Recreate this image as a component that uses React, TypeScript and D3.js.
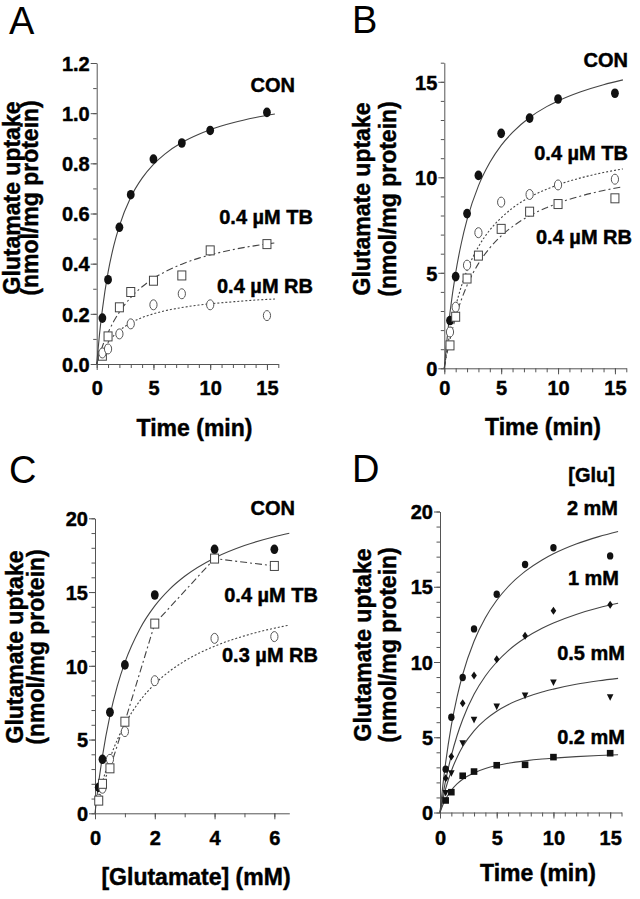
import React, { useEffect, useRef } from 'react';
import * as d3 from 'd3';

const FONT = '"Liberation Sans", Arial, Helvetica, sans-serif';
const AXIS_COLOR = '#555';
const LINE_COLOR = '#444';
const TEXT_STROKE = 0.45;

// sampling times (min) shared by panels A, B, D
const timePoints = [0.5, 1, 2, 3, 5, 7.5, 10, 15];
const fitTimes = [0, 0.25, 0.5, 1, 1.5, 2, 3, 4, 5, 6, 7.5, 9, 10, 12, 14, 15.7];

// Panel A (nmol/mg protein)
const aCon = [0.183, 0.336, 0.545, 0.675, 0.817, 0.881, 0.931, 1.003];
const aTB = [0.033, 0.11, 0.226, 0.287, 0.332, 0.353, 0.453, 0.478];
const aRB = [0.044, 0.06, 0.12, 0.16, 0.236, 0.28, 0.236, 0.193];
const aConFit = [0, 0.12, 0.217, 0.365, 0.471, 0.551, 0.665, 0.741, 0.796, 0.837, 0.883, 0.916, 0.934, 0.962, 0.983, 0.997];
const aTBFit = [0, 0.037, 0.07, 0.125, 0.17, 0.207, 0.265, 0.308, 0.341, 0.367, 0.398, 0.422, 0.435, 0.456, 0.472, 0.483];
const aRBFit = [0, 0.027, 0.05, 0.086, 0.113, 0.133, 0.164, 0.185, 0.2, 0.212, 0.225, 0.235, 0.24, 0.248, 0.255, 0.259];

// Panel B
const bCon = [2.5, 4.8, 8.1, 10.1, 12.3, 13.1, 14.1, 14.4];
const bTB = [1.2, 2.7, 4.7, 5.9, 7.3, 8.2, 8.6, 8.9];
const bRB = [1.9, 3.2, 5.4, 7.1, 8.7, 9.1, 9.6, 9.9];
const bConFit = [0, 1.59, 2.92, 5.0, 6.56, 7.78, 9.55, 10.77, 11.67, 12.35, 13.13, 13.7, 14.0, 14.48, 14.85, 15.1];
const bTBFit = [0, 0.81, 1.51, 2.67, 3.59, 4.34, 5.48, 6.3, 6.93, 7.42, 7.99, 8.41, 8.65, 9.02, 9.31, 9.5];
const bRBFit = [0, 1.01, 1.86, 3.24, 4.29, 5.13, 6.36, 7.24, 7.88, 8.39, 8.96, 9.38, 9.61, 9.97, 10.25, 10.44];

// Panel C ([Glutamate] mM)
const cConc = [0.125, 0.25, 0.5, 1, 2, 4, 6];
const cCon = [1.76, 3.66, 6.85, 10.06, 14.8, 17.9, 17.9];
const cTB = [0.86, 2.0, 3.05, 6.21, 12.86, 17.27, 16.77];
const cRB = [0.95, 1.7, 3.66, 5.54, 8.99, 11.86, 11.98];
const cFitConc = [0, 0.1, 0.25, 0.5, 0.75, 1, 1.5, 2, 2.5, 3, 4, 5, 6, 6.5];
const cConFit = [0, 1.73, 3.88, 6.62, 8.65, 10.23, 12.5, 14.06, 15.2, 16.07, 17.31, 18.15, 18.75, 18.99];
const cRBFit = [0, 0.91, 2.11, 3.72, 5.0, 6.04, 7.62, 8.77, 9.64, 10.32, 11.33, 12.03, 12.55, 12.76];

// Panel D ([Glu] series)
const d2mM = [2.88, 6.33, 8.97, 12.2, 14.5, 16.48, 17.59, 17.05];
const d1mM = [2.28, 3.72, 7.26, 9.1, 10.19, 11.74, 13.4, 13.8];
const d05mM = [1.3, 2.61, 4.6, 6.16, 7.04, 7.77, 8.64, 7.66];
const d02mM = [0.8, 1.35, 2.44, 2.72, 3.14, 3.17, 3.68, 3.94];
const d2mMFit = [0, 1.8, 3.33, 5.79, 7.67, 9.17, 11.38, 12.94, 14.1, 15.0, 16.02, 16.78, 17.19, 17.84, 18.33, 18.67];
const d1mMFit = [0, 1.13, 2.13, 3.78, 5.1, 6.18, 7.85, 9.07, 10.0, 10.74, 11.59, 12.24, 12.59, 13.16, 13.6, 13.9];
const d05mMFit = [0, 0.86, 1.59, 2.76, 3.66, 4.38, 5.43, 6.17, 6.73, 7.16, 7.64, 8.01, 8.2, 8.52, 8.75, 8.91];
const d02mMFit = [0, 0.5, 0.9, 1.48, 1.9, 2.21, 2.63, 2.92, 3.12, 3.27, 3.43, 3.55, 3.61, 3.71, 3.79, 3.84];

// ticks
const timeTicks = [0, 5, 10, 15];
const timeMinor = d3.range(0, 17, 1);
const concTicks = [0, 2, 4, 6];
const concMinor = [0, 1, 2, 3, 4, 5, 6];
const aYTicks = [0, 0.2, 0.4, 0.6, 0.8, 1.0, 1.2];
const aYMinor = d3.range(0, 13).map(i => i / 10);
const bYTicks = [0, 5, 10, 15];
const bYMinor = d3.range(0, 17, 1);
const cdYTicks = [0, 5, 10, 15, 20];
const cdYMinor = d3.range(0, 21, 1);

// texts
const panelLetters = ['A', 'B', 'C', 'D'];
const yTitle = ['Glutamate uptake', '(nmol/mg protein)'];
const xTitles = ['Time (min)', 'Time (min)', '[Glutamate] (mM)', 'Time (min)'];
const aLabels = ['CON', '0.4 µM TB', '0.4 µM RB'];
const bLabels = ['CON', '0.4 µM TB', '0.4 µM RB'];
const cLabels = ['CON', '0.4 µM TB', '0.3 µM RB'];
const dLabels = ['[Glu]', '2 mM', '1 mM', '0.5 mM', '0.2 mM'];

const drawMarker = (g, shape, cx, cy) => {
  if (shape === 'dot') {
    g.append('ellipse').attr('cx', cx).attr('cy', cy).attr('rx', 3.9).attr('ry', 4.8).attr('fill', '#111');
  } else if (shape === 'circle') {
    g.append('ellipse').attr('cx', cx).attr('cy', cy).attr('rx', 3.6).attr('ry', 5)
      .attr('fill', '#fff').attr('stroke', '#555').attr('stroke-width', 1);
  } else if (shape === 'square') {
    g.append('rect').attr('x', cx - 4).attr('y', cy - 4.5).attr('width', 8).attr('height', 9)
      .attr('fill', '#fff').attr('stroke', '#444').attr('stroke-width', 1);
  } else if (shape === 'dotSmall') {
    g.append('ellipse').attr('cx', cx).attr('cy', cy).attr('rx', 3.2).attr('ry', 3.7).attr('fill', '#111');
  } else if (shape === 'diamond') {
    g.append('path').attr('d', `M${cx},${cy - 4}L${cx + 2.8},${cy}L${cx},${cy + 4}L${cx - 2.8},${cy}Z`).attr('fill', '#111');
  } else if (shape === 'triDown') {
    g.append('path').attr('d', `M${cx - 3.3},${cy - 3}L${cx + 3.3},${cy - 3}L${cx},${cy + 3.6}Z`).attr('fill', '#111');
  } else if (shape === 'squareSmall') {
    g.append('rect').attr('x', cx - 3.3).attr('y', cy - 3.3).attr('width', 6.6).attr('height', 6.6).attr('fill', '#111');
  }
};

const boldText = (sel, size) =>
  sel.attr('font-family', FONT).attr('font-size', size).attr('font-weight', 'bold')
    .attr('fill', '#000').attr('stroke', '#000').attr('stroke-width', TEXT_STROKE);

const drawPanel = (svg, p) => {
  const x = d3.scaleLinear().domain(p.xDomain).range(p.xRange);
  const y = d3.scaleLinear().domain(p.yDomain).range(p.yRange);
  const x0 = p.xRange[0];
  const y0 = p.yRange[0];

  // axes: minor ticks with the axis line, then labelled major ticks
  const styleAxis = (g) => {
    g.attr('font-family', FONT).attr('font-size', 20).attr('font-weight', 'bold');
    g.selectAll('path, line').attr('stroke', AXIS_COLOR).attr('stroke-width', 1);
    g.selectAll('text').attr('fill', '#000').attr('stroke', '#000').attr('stroke-width', TEXT_STROKE);
  };

  const yMinorG = svg.append('g').attr('transform', `translate(${x0},0)`)
    .call(d3.axisLeft(y).tickValues(p.yMinor).tickSize(3.5).tickSizeOuter(0).tickFormat(() => ''));
  styleAxis(yMinorG);
  const yMajorG = svg.append('g').attr('transform', `translate(${x0},0)`)
    .call(d3.axisLeft(y).tickValues(p.yMajor).tickSize(6).tickSizeOuter(0).tickPadding(1).tickFormat(p.yFormat));
  yMajorG.select('.domain').remove();
  styleAxis(yMajorG);
  yMajorG.selectAll('text').attr('dy', '0.36em');

  const xMinorG = svg.append('g').attr('transform', `translate(0,${y0})`)
    .call(d3.axisBottom(x).tickValues(p.xMinor).tickSize(4).tickSizeOuter(0).tickFormat(() => ''));
  styleAxis(xMinorG);
  const xMajorG = svg.append('g').attr('transform', `translate(0,${y0})`)
    .call(d3.axisBottom(x).tickValues(p.xMajor).tickSize(6).tickSizeOuter(0).tickFormat(d3.format('d')));
  xMajorG.select('.domain').remove();
  styleAxis(xMajorG);
  xMajorG.selectAll('text').attr('y', p.xLabelBaseline - y0).attr('dy', 0);

  // curves
  p.curves.forEach(c => {
    const line = d3.line()
      .x((d, i) => x(c.xs[i]))
      .y(d => y(d))
      .curve(c.linear ? d3.curveLinear : d3.curveMonotoneX);
    svg.append('path')
      .datum(c.ys)
      .attr('fill', 'none')
      .attr('stroke', LINE_COLOR)
      .attr('stroke-width', 1.1)
      .attr('stroke-dasharray', c.dash || null)
      .attr('d', line);
  });

  // markers
  const mg = svg.append('g');
  p.series.forEach(s => {
    s.ys.forEach((v, i) => drawMarker(mg, s.shape, x(s.xs[i]), y(v)));
  });

  // annotations
  p.labels.forEach(l => {
    svg.append('text')
      .attr('x', l.x).attr('y', l.y)
      .attr('text-anchor', 'end')
      .call(boldText, 20)
      .text(l.text);
  });

  // y title (two lines, rotated)
  p.yTitleBaselines.forEach((bx, i) => {
    svg.append('text')
      .attr('transform', `translate(${bx},${p.yTitleCenter}) rotate(-90)`)
      .attr('text-anchor', 'middle')
      .call(boldText, 23)
      .text(yTitle[i]);
  });

  // x title
  svg.append('text')
    .attr('x', p.xTitlePos[0]).attr('y', p.xTitlePos[1])
    .attr('text-anchor', 'middle')
    .call(boldText, 23)
    .text(p.xTitle);

  // panel letter
  svg.append('text')
    .attr('x', p.letterPos[0]).attr('y', p.letterPos[1])
    .attr('font-family', FONT).attr('font-size', 38)
    .attr('fill', '#000')
    .text(p.letter);
};

const App = () => {
  const svgRef = useRef(null);

  useEffect(() => {
    if (!svgRef.current) return;
    const svg = d3.select(svgRef.current);
    svg.selectAll('*').remove();
    svg.append('rect').attr('width', 640).attr('height', 899).attr('fill', '#fff');

    const dotted = '2,2';
    const dashDot = '7,3,2,3';

    const panels = [
      {
        letter: panelLetters[0], letterPos: [9, 34],
        xDomain: [0, 16], xRange: [96.7, 278.3], yDomain: [0, 1.2], yRange: [364, 63],
        xMajor: timeTicks, xMinor: timeMinor, yMajor: aYTicks, yMinor: aYMinor,
        yFormat: d3.format('.1f'), xLabelBaseline: 395,
        xTitle: xTitles[0], xTitlePos: [194.5, 436],
        yTitleBaselines: [20, 38], yTitleCenter: 198,
        curves: [
          { xs: fitTimes, ys: aConFit },
          { xs: fitTimes, ys: aTBFit, dash: dashDot },
          { xs: fitTimes, ys: aRBFit, dash: dotted },
        ],
        series: [
          { xs: timePoints, ys: aCon, shape: 'dot' },
          { xs: timePoints, ys: aTB, shape: 'square' },
          { xs: timePoints, ys: aRB, shape: 'circle' },
        ],
        labels: [
          { text: aLabels[0], x: 295, y: 92 },
          { text: aLabels[1], x: 313, y: 224 },
          { text: aLabels[2], x: 313, y: 293 },
        ],
      },
      {
        letter: panelLetters[1], letterPos: [352, 33],
        xDomain: [0, 16], xRange: [444.3, 626.3], yDomain: [0, 16], yRange: [368.3, 62.7],
        xMajor: timeTicks, xMinor: timeMinor, yMajor: bYTicks, yMinor: bYMinor,
        yFormat: d3.format('d'), xLabelBaseline: 395,
        xTitle: xTitles[1], xTitlePos: [543, 435],
        yTitleBaselines: [370, 396], yTitleCenter: 199,
        curves: [
          { xs: fitTimes, ys: bConFit },
          { xs: fitTimes, ys: bRBFit, dash: dotted },
          { xs: fitTimes, ys: bTBFit, dash: dashDot },
        ],
        series: [
          { xs: timePoints, ys: bCon, shape: 'dot' },
          { xs: timePoints, ys: bRB, shape: 'circle' },
          { xs: timePoints, ys: bTB, shape: 'square' },
        ],
        labels: [
          { text: bLabels[0], x: 628, y: 67 },
          { text: bLabels[1], x: 628, y: 160 },
          { text: bLabels[2], x: 632, y: 244 },
        ],
      },
      {
        letter: panelLetters[2], letterPos: [9, 483],
        xDomain: [0, 6.5], xRange: [95, 289.3], yDomain: [0, 20], yRange: [813.3, 518.3],
        xMajor: concTicks, xMinor: concMinor, yMajor: cdYTicks, yMinor: cdYMinor,
        yFormat: d3.format('d'), xLabelBaseline: 845,
        xTitle: xTitles[2], xTitlePos: [196, 885],
        yTitleBaselines: [22.5, 43.5], yTitleCenter: 647,
        curves: [
          { xs: cFitConc, ys: cConFit },
          { xs: cConc, ys: cTB, dash: dashDot, linear: true },
          { xs: cFitConc.slice(1), ys: cRBFit.slice(1), dash: dotted },
        ],
        series: [
          { xs: cConc, ys: cCon, shape: 'dot' },
          { xs: cConc, ys: cRB, shape: 'circle' },
          { xs: cConc, ys: cTB, shape: 'square' },
        ],
        labels: [
          { text: cLabels[0], x: 295, y: 515 },
          { text: cLabels[1], x: 318, y: 602 },
          { text: cLabels[2], x: 318, y: 662 },
        ],
      },
      {
        letter: panelLetters[3], letterPos: [352, 482],
        xDomain: [0, 16], xRange: [440, 621.5], yDomain: [0, 20], yRange: [812.5, 511.5],
        xMajor: timeTicks, xMinor: timeMinor, yMajor: cdYTicks, yMinor: cdYMinor,
        yFormat: d3.format('d'), xLabelBaseline: 845,
        xTitle: xTitles[3], xTitlePos: [538, 881],
        yTitleBaselines: [371, 396], yTitleCenter: 645,
        curves: [
          { xs: fitTimes, ys: d2mMFit },
          { xs: fitTimes, ys: d1mMFit },
          { xs: fitTimes, ys: d05mMFit },
          { xs: fitTimes, ys: d02mMFit },
        ],
        series: [
          { xs: timePoints, ys: d2mM, shape: 'dotSmall' },
          { xs: timePoints, ys: d1mM, shape: 'diamond' },
          { xs: timePoints, ys: d05mM, shape: 'triDown' },
          { xs: timePoints, ys: d02mM, shape: 'squareSmall' },
        ],
        labels: [
          { text: dLabels[0], x: 615, y: 482 },
          { text: dLabels[1], x: 618, y: 515 },
          { text: dLabels[2], x: 619, y: 585 },
          { text: dLabels[3], x: 625, y: 660 },
          { text: dLabels[4], x: 625, y: 744 },
        ],
      },
    ];

    panels.forEach(p => drawPanel(svg, p));
  }, []);

  return (
    <svg
      ref={svgRef}
      width={640}
      height={899}
      style={{ position: 'absolute', left: 0, top: 0, background: '#fff' }}
    />
  );
};

export default App;
